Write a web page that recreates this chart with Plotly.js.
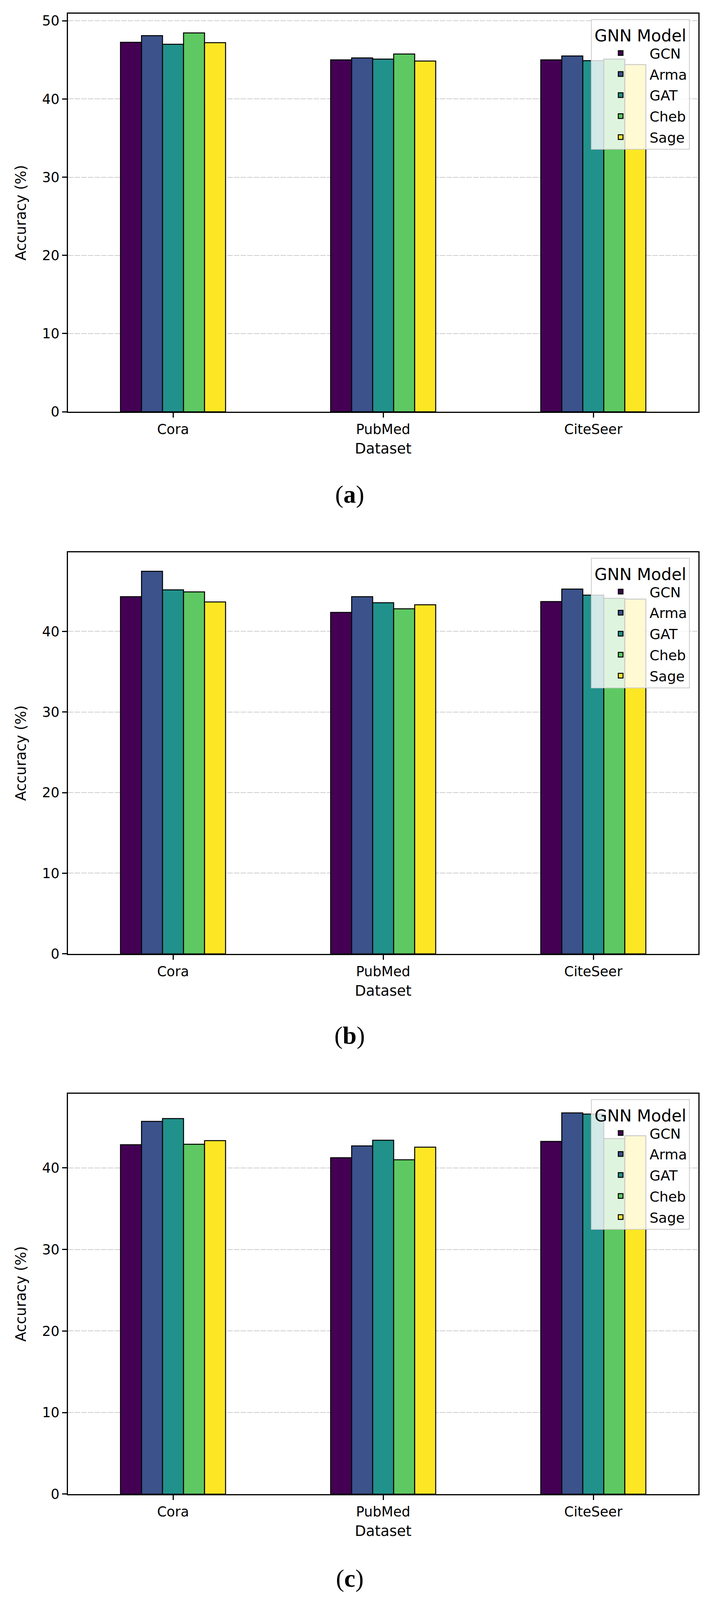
<!DOCTYPE html>
<html>
<head>
<meta charset="utf-8">
<script src="https://cdn.plot.ly/plotly-3.0.1.min.js"></script>
<style>
  html, body { margin: 0; padding: 0; background: #fff; overflow: hidden; }
</style>
</head>
<body>
<div id="chart"></div>
<script>
var datasets = ['Cora', 'PubMed', 'CiteSeer'];
var models = ['GCN', 'Arma', 'GAT', 'Cheb', 'Sage'];
var colors = ['#440154', '#3b528b', '#21918c', '#5ec962', '#fde725'];
var captions = ['a', 'b', 'c'];

// (a)
var gcnA  = [47.25, 45.0, 45.0];
var armaA = [48.1, 45.25, 45.5];
var gatA  = [47.0, 45.1, 44.9];
var chebA = [48.45, 45.75, 45.1];
var sageA = [47.2, 44.85, 44.4];

// (b)
var gcnB  = [44.3, 42.35, 43.7];
var armaB = [47.45, 44.3, 45.25];
var gatB  = [45.15, 43.55, 44.5];
var chebB = [44.9, 42.8, 44.1];
var sageB = [43.65, 43.3, 44.0];

// (c)
var gcnC  = [42.85, 41.25, 43.25];
var armaC = [45.7, 42.7, 46.75];
var gatC  = [46.05, 43.4, 46.6];
var chebC = [42.9, 41.0, 43.6];
var sageC = [43.35, 42.55, 43.95];

var panels = [
  [gcnA, armaA, gatA, chebA, sageA],
  [gcnB, armaB, gatB, chebB, sageB],
  [gcnC, armaC, gatC, chebC, sageC]
];

// page geometry, in pixels of the 1828 x 4655 original
var W = 1828, H0 = 4655;
// the window can be shorter than the full figure: squeeze vertically so all three panels stay visible
var H = Math.min(H0, window.innerHeight || H0);
var sy = H / H0;
var axLeft = 174, axRight = 1788;
var axTop = [40, 1607, 3182];
var axBottom = [1198, 2775, 4347];
var yMax = [50.9, 49.8, 49.1];
var captionY = [1438, 3012, 4592];
var legendRight = 1766;

function px(x) { return x / W; }
function py(y) { return 1 - y / H0; }

var data = [];
panels.forEach(function (series, p) {
  var sfx = p === 0 ? '' : String(p + 1);
  series.forEach(function (vals, m) {
    data.push({
      type: 'bar',
      x: datasets,
      y: vals,
      name: models[m],
      xaxis: 'x' + sfx,
      yaxis: 'y' + sfx,
      legend: 'legend' + sfx,
      legendgroup: models[m] + p,
      marker: { color: colors[m], line: { color: '#000000', width: 2.5 } },
      hoverinfo: 'name+y'
    });
  });
});

var fam = 'DejaVu Sans, sans-serif';

var layout = {
  width: W,
  height: H,
  margin: { l: 0, r: 0, t: 0, b: 0 },
  paper_bgcolor: '#ffffff',
  plot_bgcolor: '#ffffff',
  font: { family: fam, color: '#000000' },
  barmode: 'group',
  bargap: 0.5,
  bargroupgap: 0,
  annotations: []
};

panels.forEach(function (series, p) {
  var sfx = p === 0 ? '' : String(p + 1);
  layout['xaxis' + sfx] = {
    domain: [px(axLeft), px(axRight)],
    anchor: 'y' + sfx,
    type: 'category',
    range: [-0.5, 2.5],
    showline: true, mirror: true, linecolor: '#000000', linewidth: 2.5,
    ticks: 'outside', ticklen: 12, tickwidth: 2.5, tickcolor: '#000000',
    showgrid: false,
    layer: 'above traces',
    tickfont: { family: fam, size: 35, color: '#000000' },
    title: { text: 'Dataset', standoff: 20 * sy, font: { family: fam, size: 37, color: '#000000' } }
  };
  layout['yaxis' + sfx] = {
    domain: [py(axBottom[p]), py(axTop[p])],
    anchor: 'x' + sfx,
    range: [0, yMax[p]],
    dtick: 10,
    showline: true, mirror: true, linecolor: '#000000', linewidth: 2.5,
    ticks: 'outside', ticklen: 12, tickwidth: 2.5, tickcolor: '#000000',
    showgrid: true, gridcolor: 'rgba(180,180,180,0.65)', gridwidth: 1.5, griddash: '14px,3px',
    zeroline: false,
    layer: 'above traces',
    tickfont: { family: fam, size: 35, color: '#000000' },
    title: { text: 'Accuracy (%)', standoff: 30, font: { family: fam, size: 37, color: '#000000' } }
  };
  layout['legend' + sfx] = {
    x: px(legendRight), y: py(axTop[p] + 16),
    xanchor: 'right', yanchor: 'top',
    bgcolor: 'rgba(255,255,255,0.8)',
    bordercolor: '#cccccc', borderwidth: 2,
    font: { family: fam, size: 36, color: '#000000' },
    title: { text: 'GNN Model', side: 'top center', font: { family: fam, size: 42, color: '#000000' } },
    traceorder: 'grouped',
    tracegroupgap: Math.max(0, Math.round(61 * sy - 50)),
    itemwidth: 138
  };
  layout.annotations.push({
    xref: 'paper', yref: 'paper',
    x: px(895), y: py(captionY[p]),
    xanchor: 'center', yanchor: 'middle',
    showarrow: false,
    text: '(<b>' + captions[p] + '</b>)',
    font: { family: 'Liberation Serif, DejaVu Serif, serif', size: 64, color: '#000000' }
  });
});

Plotly.newPlot('chart', data, layout, { displayModeBar: false, responsive: false });
</script>
</body>
</html>
